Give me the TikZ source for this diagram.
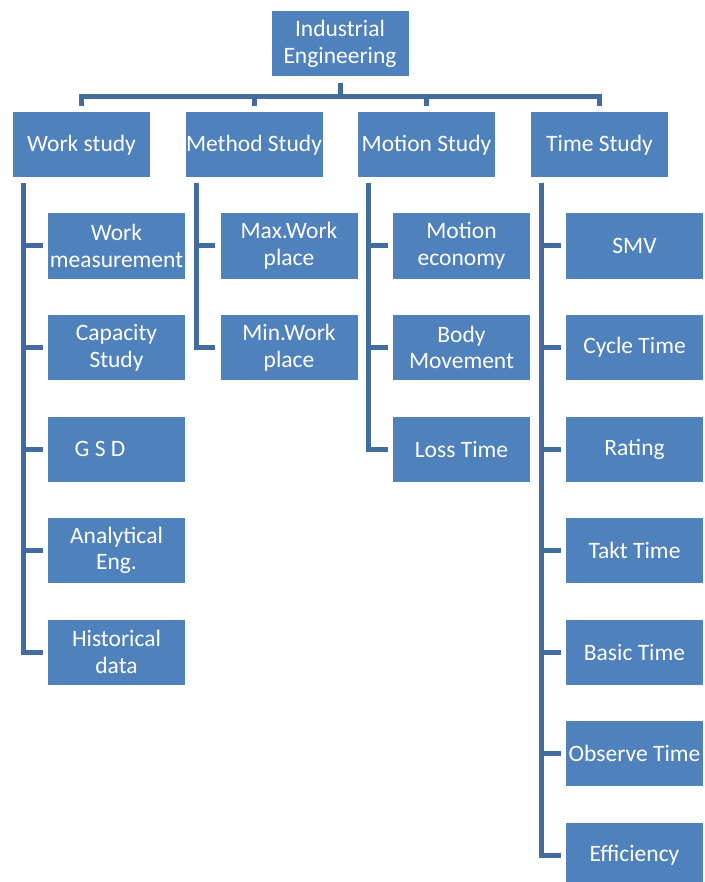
\documentclass[tikz,border=0pt]{standalone}
\usepackage{fontspec}
\setmainfont{Carlito}
\usepackage{tikz}
\usetikzlibrary{calc}
\definecolor{boxblue}{RGB}{79,129,189}
\definecolor{lineblue}{RGB}{66,108,160}

\begin{document}
\begin{tikzpicture}[
      x=1pt, y=-1pt,
      basebox/.style={rectangle, fill=boxblue, text=white, align=center,
                      inner sep=0pt, minimum width=137pt, minimum height=65pt,
                      font=\fontsize{23.5}{26.7}\selectfont},
      buslink/.style={draw=lineblue, line width=5pt,
                      shorten <=6pt, shorten >=6pt},
      kidlink/.style={draw=lineblue, line width=5pt,
                      shorten <=5pt, shorten >=5pt},
    ]
      \useasboundingbox (0,0) rectangle (704,882);
      % top and second level
      \node[basebox] (ie) at (340, 44) {Industrial\\Engineering};
      \node[basebox] (work) at (81.5, 145) {Work study};
      \node[basebox] (method) at (254, 145) {Method Study};
      \node[basebox] (motion) at (426.5, 145) {Motion Study};
      \node[basebox] (time) at (599.5, 145) {Time Study};
      % work study branch
      \node[basebox] (wmeas) at (116.5, 246) {Work\\measurement};
      \node[basebox] (capac) at (116.5, 347.5) {Capacity\\Study};
      \node[basebox] (gsd) at (116.5, 449) {G S D\hspace*{33pt}};
      \node[basebox] (anal) at (116.5, 550.5) {Analytical\\Eng.};
      \node[basebox] (hist) at (116.5, 652) {Historical\\data};
      % method study branch
      \node[basebox] (maxwp) at (289, 246) {Max.Work\\place};
      \node[basebox] (minwp) at (289, 347.5) {Min.Work\\place};
      % motion study branch
      \node[basebox] (moteco) at (461.5, 246) {Motion\\economy};
      \node[basebox] (bodymv) at (461.5, 347.5) {Body\\Movement};
      \node[basebox] (loss) at (461.5, 449) {Loss Time};
      % time study branch
      \node[basebox] (smv) at (634.5, 246) {SMV};
      \node[basebox] (cycle) at (634.5, 347.5) {Cycle Time};
      \node[basebox] (rating) at (634.5, 449) {Rating};
      \node[basebox] (takt) at (634.5, 550.5) {Takt Time};
      \node[basebox] (basic) at (634.5, 652) {Basic Time};
      \node[basebox] (observe) at (634.5, 753.5) {Observe Time};
      \node[basebox] (effic) at (634.5, 855) {Efficiency};
      % connectors
      \foreach \n in {work,method,motion,time}
        \draw[buslink] (ie.south) -- ++(0,20) -| (\n.north);
      \foreach \n in {wmeas,capac,gsd,anal,hist}
        \draw[kidlink] ([xshift=11pt]work.south west) |- (\n.west);
      \foreach \n in {maxwp,minwp}
        \draw[kidlink] ([xshift=11pt]method.south west) |- (\n.west);
      \foreach \n in {moteco,bodymv,loss}
        \draw[kidlink] ([xshift=11pt]motion.south west) |- (\n.west);
      \foreach \n in {smv,cycle,rating,takt,basic,observe,effic}
        \draw[kidlink] ([xshift=11pt]time.south west) |- (\n.west);
    \end{tikzpicture}
\end{document}
